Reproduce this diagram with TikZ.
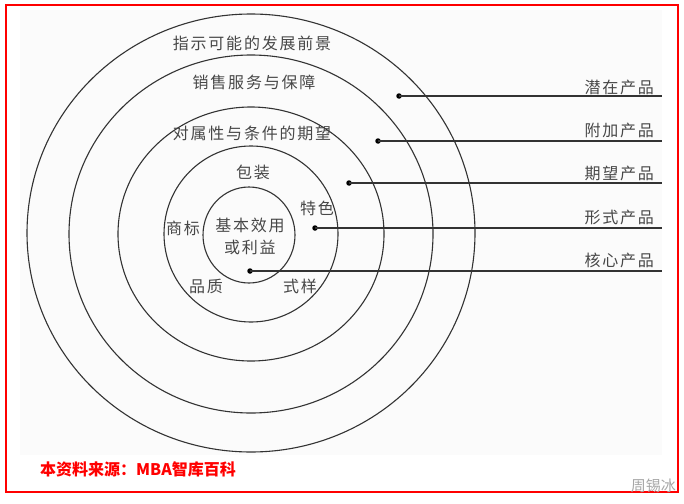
\documentclass[tikz,border=0pt]{standalone}
\usepackage{fontspec}
\newfontfamily\cjk[LetterSpace=11]{Noto Sans CJK SC}
\newfontfamily\cjksrc{Noto Sans CJK SC}
\begin{document}
\begin{tikzpicture}[x=1pt, y=-1pt,
    every node/.style={inner sep=0pt},
    ring/.style={draw=black!80, line width=1.1pt},
    dot/.style={circle, fill=black, minimum size=5.5pt},
    link/.style={draw=black!80, line width=1.1pt},
    lbl/.style={text=black!72, font=\cjk\fontsize{16}{22}\selectfont},
    cat/.style={lbl, anchor=east},
    src/.style={text=red, font=\cjksrc\bfseries\fontsize{16}{16}\selectfont, anchor=west},
]
\useasboundingbox (0,0) rectangle (684,503);
\fill[black!1.5] (20,10) rectangle (662,455);
\draw[red, line width=1.2pt] (6,5) rectangle (678,492);
% rings, outside in
\draw[ring] (251,233) ellipse [x radius=224, y radius=219];
\draw[ring] (251,234) ellipse [x radius=182, y radius=179];
\draw[ring] (251,234) ellipse [x radius=133, y radius=127];
\draw[ring] (251,234) ellipse [x radius=87, y radius=88];
\draw[ring] (249,235) ellipse [x radius=46, y radius=48];
% ring texts
\node[lbl] (tfuture) at (252,43)  {指示可能的发展前景};
\node[lbl] (tservice) at (254,82) {销售服务与保障};
\node[lbl] (texpect) at (252,133) {对属性与条件的期望};
\node[lbl] (tpack) at (253,172)   {包装};
\node[lbl] (tfeat) at (317,208)   {特色};
\node[lbl] (tbrand) at (183,228)  {商标};
\node[lbl, align=center] (tcore) at (250,236) {基本效用\\或利益};
\node[lbl] (tqual) at (206,286)   {品质};
\node[lbl] (tstyle) at (300,286)  {式样};
% levels on the right
\node[dot] (d1) at (399,96)  {};
\node[dot] (d2) at (378,141) {};
\node[dot] (d3) at (349,183) {};
\node[dot] (d4) at (315,228) {};
\node[dot] (d5) at (250,271) {};
\coordinate (e1) at (662,96);
\coordinate (e2) at (662,141);
\coordinate (e3) at (662,183);
\coordinate (e4) at (662,228);
\coordinate (e5) at (662,271);
\draw[link] (d1.center) -- (e1);
\draw[link] (d2.center) -- (e2);
\draw[link] (d3.center) -- (e3);
\draw[link] (d4.center) -- (e4);
\draw[link] (d5.center) -- (e5);
\node[cat] (c1) at (654,87)  {潜在产品};
\node[cat] (c2) at (654,130) {附加产品};
\node[cat] (c3) at (654,173) {期望产品};
\node[cat] (c4) at (654,217) {形式产品};
\node[cat] (c5) at (654,260) {核心产品};
% source line and mark
\node[src] (source) at (40,469) {本资料来源：MBA智库百科};
\node[text=black!35, font=\cjksrc\fontsize{15}{15}\selectfont, anchor=east] (mark) at (676,486) {周锡冰};
\end{tikzpicture}
\end{document}
